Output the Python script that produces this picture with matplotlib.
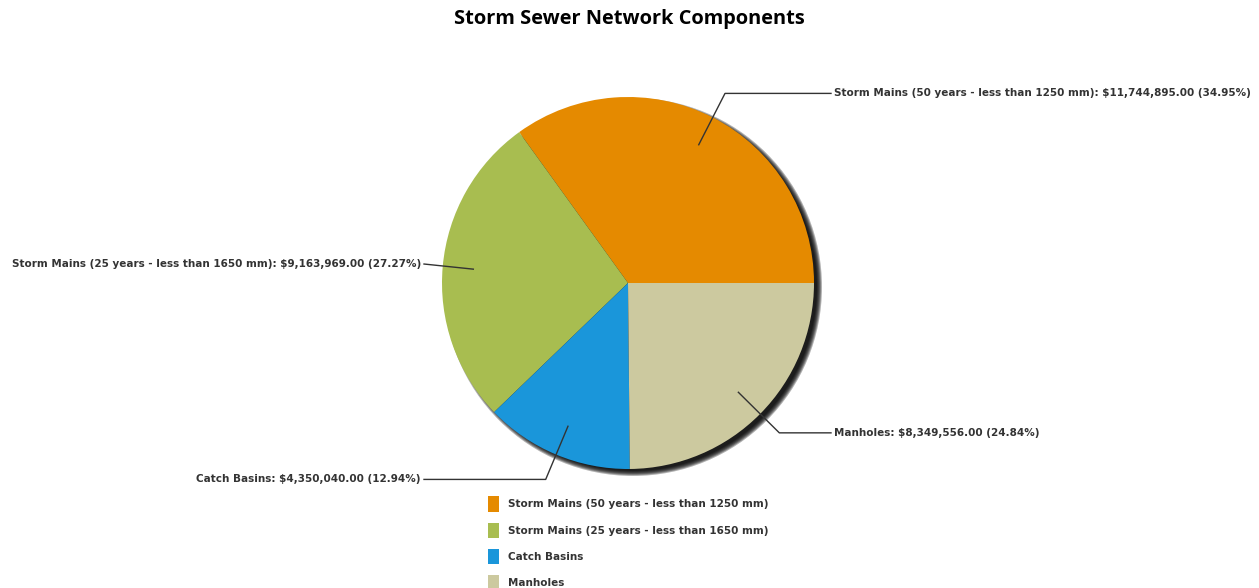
import numpy as np
import matplotlib.pyplot as plt
from matplotlib.patches import Circle, Patch

categories = ['Storm Mains (50 years - less than 1250 mm)',
              'Storm Mains (25 years - less than 1650 mm)',
              'Catch Basins',
              'Manholes']
costs = [11744895.00, 9163969.00, 4350040.00, 8349556.00]
colors = ['#E58A00', '#A8BD50', '#1A96DA', '#CCC99F']

W, H = 1259, 588
cx, cy, r = 628, H - 283, 186
text_col = '#333333'

fig = plt.figure(figsize=(W / 100, H / 100), dpi=100)
ax = fig.add_axes([0, 0, 1, 1])

# soft drop shadow behind the pie
for k in range(6):
    ax.add_patch(Circle((cx + 5, cy - 4), r + 3 - k, color='black',
                        alpha=0.3, lw=0, zorder=1))

wedges, _ = ax.pie(costs, colors=colors, startangle=0, counterclock=True,
                   center=(cx, cy), radius=r, frame=True,
                   wedgeprops=dict(linewidth=0))
for w in wedges:
    w.set_zorder(2)
ax.set_xlim(0, W)
ax.set_ylim(0, H)
ax.set_aspect('equal')
ax.axis('off')

total = sum(costs)
for w, name, val in zip(wedges, categories, costs):
    mid = np.deg2rad((w.theta1 + w.theta2) / 2)
    x0, y0 = cx + 0.835 * r * np.cos(mid), cy + 0.835 * r * np.sin(mid)
    ex, ey = cx + 1.145 * r * np.cos(mid), cy + 1.145 * r * np.sin(mid)
    label = f"{name}: \\${val:,.2f} ({val / total * 100:.2f}%)"
    if np.cos(mid) >= 0:
        tx = 831
        ex = min(ex, tx)
        ax.plot([x0, ex, tx], [y0, ey, ey], color=text_col, lw=1, zorder=3)
        ax.text(tx + 3, ey, label, ha='left', va='center', fontsize=7.5,
                fontweight='bold', color=text_col)
    else:
        tx = 424
        ex = max(ex, tx)
        ax.plot([x0, ex, tx], [y0, ey, ey], color=text_col, lw=1, zorder=3)
        ax.text(tx - 3, ey, label, ha='right', va='center', fontsize=7.5,
                fontweight='bold', color=text_col)

fig.text(629 / W, 1 - 19 / H, 'Storm Sewer Network Components',
         ha='center', va='center', fontsize=14.4, fontweight='bold',
         family='Open Sans', color='black')

handles = [Patch(facecolor=c, edgecolor='none') for c in colors]
leg = ax.legend(handles, categories, loc='upper left',
                bbox_to_anchor=(484 / W, 1 - 492 / H), frameon=False,
                prop=dict(size=7.5, weight='bold'), labelcolor=text_col,
                handlelength=1.05, handleheight=1.9, handletextpad=0.85,
                labelspacing=1.05, borderaxespad=0)

fig.savefig('out.png', dpi=100)
